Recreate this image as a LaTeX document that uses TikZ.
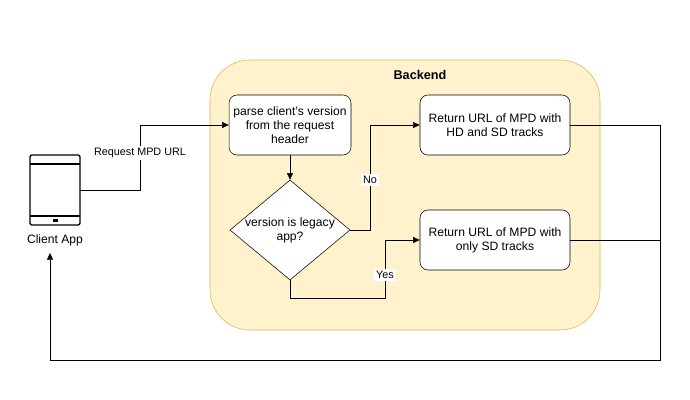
\documentclass[tikz,border=0pt]{standalone}
\usepackage{fontspec}
\setmainfont{Liberation Sans}
\usetikzlibrary{shapes.geometric,arrows.meta}
\definecolor{backfill}{HTML}{FFF2CC}
\definecolor{backline}{HTML}{D6B656}
\tikzset{
  task/.style={draw,rounded corners=6pt,fill=white,minimum width=90pt,minimum height=45pt,align=center,font=\fontsize{9.1}{10.5}\selectfont},
  choice/.style={draw,diamond,aspect=1.2,fill=white,minimum width=90pt,minimum height=75pt,inner sep=0pt,align=center,font=\fontsize{9.1}{10.5}\selectfont},
  flow/.style={-{Triangle[length=5pt,width=4.5pt]}},
  lbl/.style={fill=white,inner sep=1.5pt,font=\fontsize{8.1}{9.5}\selectfont}
}
\begin{document}
\begin{tikzpicture}[x=0.75pt,y=-0.75pt]
\useasboundingbox (0,0) rectangle (690,400);
\draw[backline,fill=backfill,rounded corners=30pt] (210,60) rectangle (600,330);
\node[font=\bfseries\fontsize{9.5}{11}\selectfont] (title) at (420,75) {Backend};

\node[task,minimum width=90pt] (parse) at (290,125) {parse client's version\\from the request\\header};
\node[choice] (legacy) at (290,230) {version is legacy\\app?};
\node[task,minimum width=112.5pt] (hd) at (495,125) {Return URL of MPD with\\HD and SD tracks};
\node[task,minimum width=112.5pt] (sd) at (495,240) {Return URL of MPD with\\only SD tracks};

% client tablet
\draw[line width=1pt,rounded corners=1.5pt] (30,155) rectangle (80,225);
\draw[line width=1pt] (30,164)--(80,164) (30,216)--(80,216);
\draw[fill=black] (53,219.5) rectangle (57,221);
\coordinate (app) at (80,190);
\node[font=\fontsize{9.1}{10.5}\selectfont] (client) at (55,240) {Client App};
\coordinate (appin) at (50,253);

\draw[flow] (app) -- (140,190) -- (140,125) -- (parse.west);
\node[lbl] (req) at (140,153) {Request MPD URL};
\draw[flow] (parse) -- (legacy);
\draw[flow] (legacy.east) -- (370,230) -- (370,125) -- (hd.west);
\node[lbl] (no) at (370,180) {No};
\draw[flow] (legacy.south) -- (290,298) -- (385,298) -- (385,240) -- (sd.west);
\node[lbl] (yes) at (385,275) {Yes};

\coordinate (back) at (660,125);
\draw[flow] (hd.east) -- (back) -- (660,360) -- (50,360) -- (appin);
\draw (sd.east) -- (660,240);
\end{tikzpicture}
\end{document}
